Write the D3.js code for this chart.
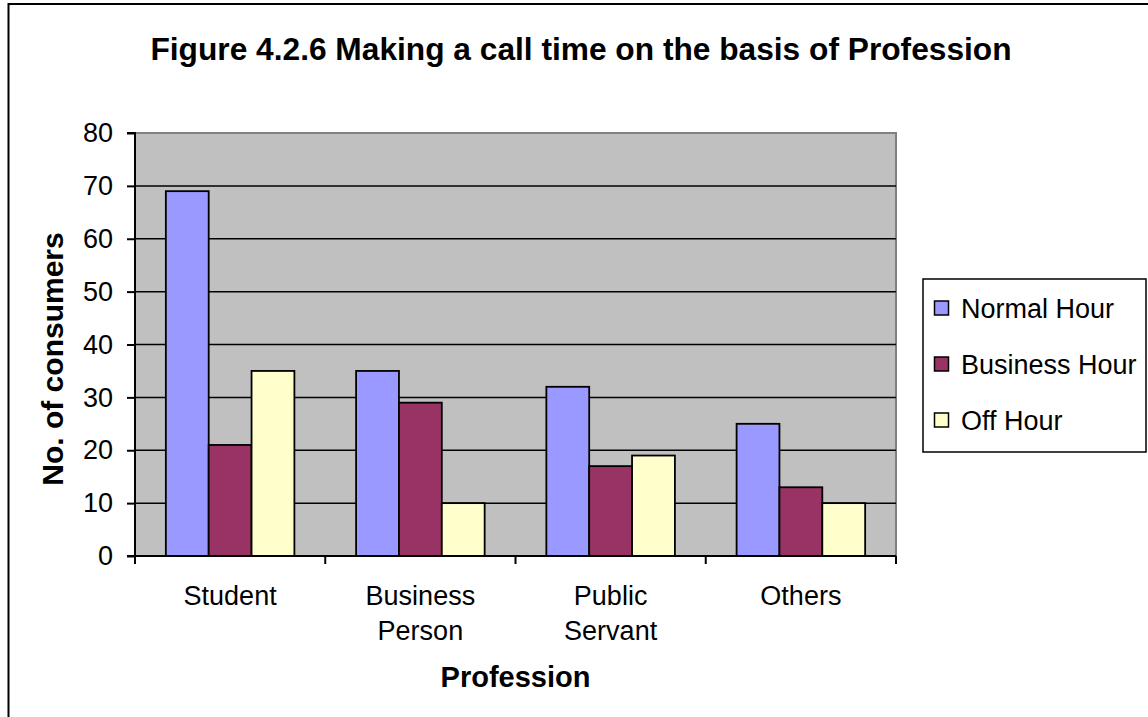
<!DOCTYPE html>
<html>
<head>
<meta charset="utf-8">
<script src="https://cdn.jsdelivr.net/npm/d3@7"></script>
<style>
  body { margin: 0; background: #fff; }
  svg { display: block; font-family: "Liberation Sans", Arial, sans-serif; }
</style>
</head>
<body>
<div class="chart"></div>
<script>
var categories = [["Student"], ["Business", "Person"], ["Public", "Servant"], ["Others"]];
var series = ["Normal Hour", "Business Hour", "Off Hour"];
var normalHour = [69, 35, 32, 25];
var businessHour = [21, 29, 17, 13];
var offHour = [35, 10, 19, 10];
var yTicks = [0, 10, 20, 30, 40, 50, 60, 70, 80];
var colors = ["#9999ff", "#993366", "#ffffcc"];

var width = 1148, height = 717;
var plot = {left: 135, right: 896, top: 133, bottom: 556};

var values = [normalHour, businessHour, offHour];
var catNames = categories.map(c => c.join(" "));

var x0 = d3.scaleBand()
  .domain(catNames)
  .range([plot.left, plot.right]);

var x1 = d3.scaleBand()
  .domain(series)
  .range([0, x0.bandwidth()])
  .paddingOuter(0.72);

var y = d3.scaleLinear()
  .domain([0, 80])
  .range([plot.bottom, plot.top]);

var svg = d3.select(".chart").append("svg")
  .attr("width", width)
  .attr("height", height);

// outer frame, runs off the right and bottom edge
svg.append("rect")
  .attr("x", 8.5).attr("y", 4)
  .attr("width", 1300).attr("height", 900)
  .attr("fill", "#fff")
  .attr("stroke", "#000")
  .attr("stroke-width", 2);

svg.append("text")
  .attr("x", 581).attr("y", 60)
  .attr("text-anchor", "middle")
  .style("font-size", "31.7px")
  .style("font-weight", "bold")
  .text("Figure 4.2.6 Making a call time on the basis of Profession");

// plot area
svg.append("rect")
  .attr("x", plot.left).attr("y", plot.top)
  .attr("width", plot.right - plot.left)
  .attr("height", plot.bottom - plot.top)
  .attr("fill", "#c0c0c0")
  .attr("stroke", "#808080")
  .attr("stroke-width", 2);

svg.append("g")
  .selectAll("line")
  .data(yTicks.filter(d => d > 0 && d < 80))
  .enter().append("line")
    .attr("x1", plot.left).attr("x2", plot.right)
    .attr("y1", d => y(d)).attr("y2", d => y(d))
    .attr("stroke", "#000")
    .attr("stroke-width", 1.5);

// bars
var groups = svg.append("g")
  .selectAll("g")
  .data(catNames)
  .enter().append("g")
    .attr("transform", d => `translate(${x0(d)},0)`);

groups.selectAll("rect")
  .data((d, i) => series.map((s, j) => ({s: s, v: values[j][i], c: colors[j]})))
  .enter().append("rect")
    .attr("x", d => x1(d.s))
    .attr("y", d => y(d.v))
    .attr("width", x1.bandwidth())
    .attr("height", d => y(0) - y(d.v))
    .attr("fill", d => d.c)
    .attr("stroke", "#000")
    .attr("stroke-width", 1.8);

// y axis
var yAxis = d3.axisLeft(y)
  .tickValues(yTicks)
  .tickSize(8)
  .tickPadding(14);

var gY = svg.append("g")
  .attr("transform", `translate(${plot.left},0)`)
  .call(yAxis);
gY.select(".domain").attr("stroke", "#000").attr("stroke-width", 2)
  .attr("d", `M-8,${plot.top}H0V${plot.bottom}H-8`);
gY.selectAll(".tick line").attr("stroke", "#000").attr("stroke-width", 2);
gY.selectAll(".tick text")
  .style("font-size", "27px")
  .style("font-family", "Liberation Sans, Arial, sans-serif")
  .attr("fill", "#000");

// x axis
svg.append("line")
  .attr("x1", plot.left).attr("x2", plot.right)
  .attr("y1", plot.bottom).attr("y2", plot.bottom)
  .attr("stroke", "#000").attr("stroke-width", 2);

svg.append("g")
  .selectAll("line")
  .data(catNames.map(d => x0(d)).concat([plot.right]))
  .enter().append("line")
    .attr("x1", d => d).attr("x2", d => d)
    .attr("y1", plot.bottom).attr("y2", plot.bottom + 8)
    .attr("stroke", "#000").attr("stroke-width", 2);

var catLabels = svg.append("g")
  .selectAll("text")
  .data(categories)
  .enter().append("text")
    .attr("text-anchor", "middle")
    .attr("x", d => x0(d.join(" ")) + x0.bandwidth() / 2)
    .attr("y", 605)
    .style("font-size", "27px");

catLabels.selectAll("tspan")
  .data(d => d)
  .enter().append("tspan")
    .attr("x", function() { return d3.select(this.parentNode).attr("x"); })
    .attr("dy", (d, i) => i === 0 ? 0 : 35)
    .text(d => d);

// axis titles
svg.append("text")
  .attr("x", (plot.left + plot.right) / 2).attr("y", 687)
  .attr("text-anchor", "middle")
  .style("font-size", "29px")
  .style("font-weight", "bold")
  .text("Profession");

svg.append("text")
  .attr("transform", "translate(63,359) rotate(-90)")
  .attr("text-anchor", "middle")
  .style("font-size", "30px")
  .style("font-weight", "bold")
  .text("No. of consumers");

// legend
var legend = svg.append("g");
legend.append("rect")
  .attr("x", 923).attr("y", 279)
  .attr("width", 223).attr("height", 173)
  .attr("fill", "#fff")
  .attr("stroke", "#000")
  .attr("stroke-width", 1.5);

var items = legend.selectAll(".item")
  .data(series)
  .enter().append("g")
    .attr("class", "item")
    .attr("transform", (d, i) => `translate(0, ${318 + i * 56})`);

items.append("rect")
  .attr("x", 934.5).attr("y", -17)
  .attr("width", 14).attr("height", 14)
  .attr("fill", (d, i) => colors[i])
  .attr("stroke", "#000")
  .attr("stroke-width", 1.5);

items.append("text")
  .attr("x", 961).attr("y", 0)
  .style("font-size", "27px")
  .text(d => d);
</script>
</body>
</html>
